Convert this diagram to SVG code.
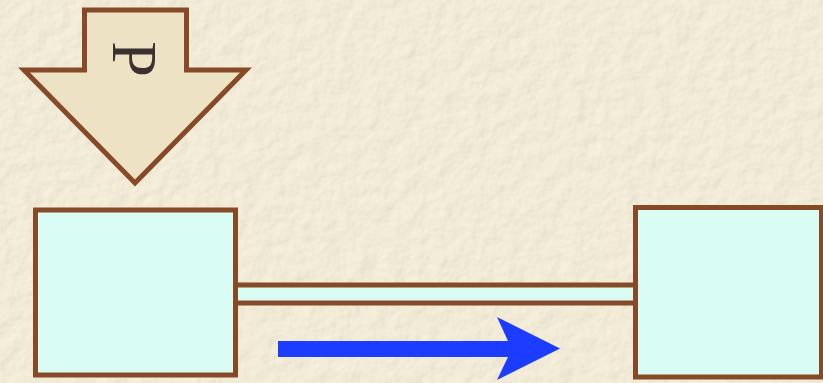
<svg xmlns="http://www.w3.org/2000/svg" width="823" height="383" viewBox="0 0 823 383">
<defs>
<style>
.box{fill:#d9fdf5;stroke:#874a29;stroke-width:5}
.bigarrow{fill:#eee2c4;stroke:#874a29;stroke-width:5;stroke-linejoin:miter}
.flow{fill:#1c3cff}
.lbl{font-family:"Liberation Serif","DejaVu Serif",serif;font-size:64px;fill:#3b3131}
</style>
<filter id="tex" x="0" y="0" width="100%" height="100%">
<feTurbulence type="fractalNoise" baseFrequency="0.06" numOctaves="3" seed="4" result="n"/>
<feDiffuseLighting in="n" lighting-color="#fffaea" surfaceScale="1.4" result="l">
<feDistantLight azimuth="225" elevation="60"/>
</feDiffuseLighting>
<feComposite in="l" in2="SourceGraphic" operator="in"/>
</filter>
</defs>
<rect x="0" y="0" width="823" height="383" fill="#f4ebd2"/>
<rect x="0" y="0" width="823" height="383" fill="#f4ebd2" filter="url(#tex)" opacity="0.55"/>
<g id="connectors">
<rect id="link" class="box" x="235.5" y="285" width="400" height="18"/>
<polygon id="flow-arrow" class="flow" points="278,341 508,341 497,317 560,348.5 497,380 508,357 278,357"/>
</g>
<g id="load-P">
<polygon class="bigarrow" points="84.5,10 186.5,10 186.5,70 246,70 135,183 24,70 84.5,70"/>
<text class="lbl" transform="translate(113,59) rotate(90)" text-anchor="middle">P</text>
</g>
<g id="left-block">
<rect class="box" x="35.5" y="210" width="200" height="165"/>
</g>
<g id="right-block">
<rect class="box" x="635.5" y="207.5" width="186" height="169.5"/>
</g>
</svg>
